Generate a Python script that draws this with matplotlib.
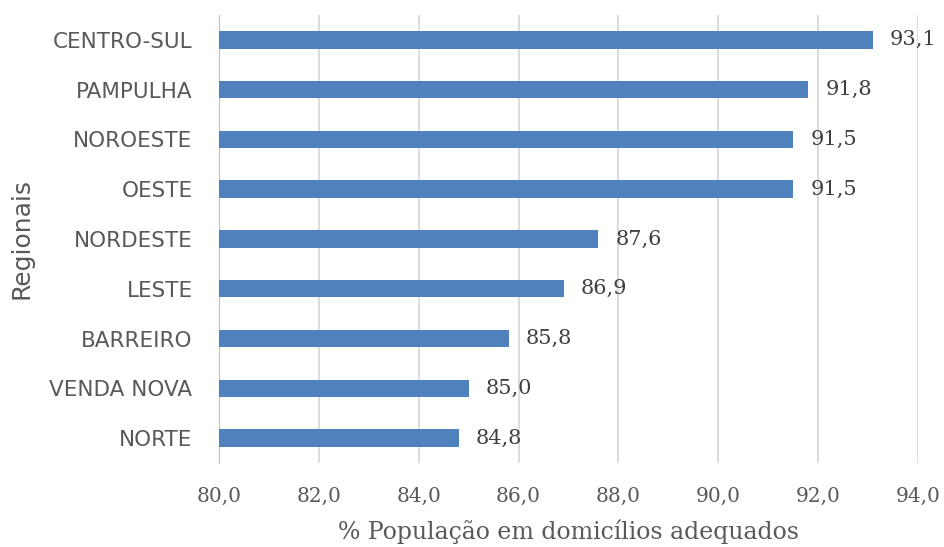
import matplotlib.pyplot as plt

regionais = ["NORTE", "VENDA NOVA", "BARREIRO", "LESTE", "NORDESTE",
             "OESTE", "NOROESTE", "PAMPULHA", "CENTRO-SUL"]
valores = [84.8, 85.0, 85.8, 86.9, 87.6, 91.5, 91.5, 91.8, 93.1]
xticks = [80, 82, 84, 86, 88, 90, 92, 94]

fig = plt.figure(figsize=(9.44, 5.47), dpi=100)
ax = fig.add_axes([0.232, 0.1536, 0.7405, 0.819])

ypos = range(len(regionais))
ax.barh(ypos, [v - 80 for v in valores], left=80, height=0.35,
        color="#4F81BD", zorder=3)

for y, v in zip(ypos, valores):
    ax.text(v + 0.34, y, f"{v:.1f}".replace(".", ","), va="center", ha="left",
            fontsize=15, family="DejaVu Serif", color="#404040")

ax.set_xlim(80, 94)
ax.set_ylim(-0.5, len(regionais) - 0.5)
ax.set_xticks(xticks)
ax.set_xticklabels([f"{t:.1f}".replace(".", ",") for t in xticks],
                   fontsize=14.5, family="DejaVu Serif", color="#595959")
ax.set_yticks(list(ypos))
ax.set_yticklabels(regionais, fontsize=15.5, family="DejaVu Sans", color="#595959")
ax.tick_params(axis="x", length=0, pad=17)
ax.tick_params(axis="y", length=0, pad=19)

ax.grid(axis="x", color="#D9D9D9", linewidth=1.3, zorder=0)
for s in ["top", "right", "bottom"]:
    ax.spines[s].set_visible(False)
ax.spines["left"].set_color("#BFBFBF")

ax.set_xlabel("% População em domicílios adequados", fontsize=17,
              family="DejaVu Serif", color="#595959", labelpad=10)
ax.set_ylabel("Regionais", fontsize=18, family="DejaVu Sans", color="#595959")
ax.yaxis.set_label_coords(-0.265, 0.5)

fig.savefig("out.png", dpi=100)
